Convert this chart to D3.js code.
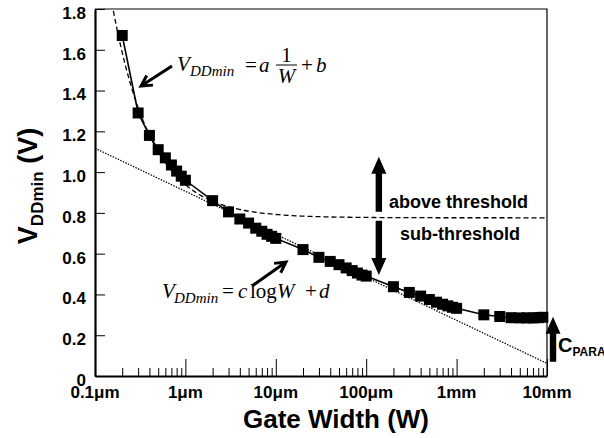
<!DOCTYPE html>
<html>
<head>
<meta charset="utf-8">
<script src="https://cdn.jsdelivr.net/npm/d3@7"></script>
<style>
  body { margin: 0; background: #fff; }
  svg { display: block; }
  .tick-lbl { font-family: Arial, "Liberation Sans", sans-serif; font-weight: bold; font-size: 17px; }
  .eq { font-family: "Times New Roman", "Liberation Serif", serif; font-size: 21px; }
</style>
</head>
<body>
<svg id="chart" width="604" height="438"></svg>
<script>
// gate width in um, measured minimum supply in V
var widths = [0.2, 0.3, 0.4, 0.5, 0.6, 0.7, 0.8, 0.9, 1,
              2, 3, 4, 5, 6, 7, 8, 9, 10,
              20, 30, 40, 50, 60, 70, 80, 90, 100,
              200, 300, 400, 500, 600, 700, 800, 900, 1000,
              2000, 3000, 4000, 5000, 6000, 7000, 8000, 9000];
var vddmin = [1.67, 1.29, 1.18, 1.11, 1.07, 1.035, 1.005, 0.98, 0.96,
              0.86, 0.805, 0.77, 0.75, 0.725, 0.71, 0.695, 0.685, 0.675,
              0.62, 0.582, 0.562, 0.546, 0.53, 0.517, 0.505, 0.495, 0.49,
              0.438, 0.41, 0.392, 0.375, 0.362, 0.352, 0.344, 0.337, 0.332,
              0.30, 0.292, 0.286, 0.285, 0.285, 0.285, 0.286, 0.288];

// fitted constants (W in um)
var fitA = 0.162, fitB = 0.776;   // above threshold: a/W + b
var fitC = -0.211, fitD = 0.906;  // sub-threshold: c log W + d

var xMajor = [0.1, 1, 10, 100, 1000, 10000];
var xLabels = ["0.1\u03bcm", "1\u03bcm", "10\u03bcm", "100\u03bcm", "1mm", "10mm"];
var yTicks = [0, 0.2, 0.4, 0.6, 0.8, 1.0, 1.2, 1.4, 1.6, 1.8];
var yLabels = ["0", "0.2", "0.4", "0.6", "0.8", "1.0", "1.2", "1.4", "1.6", "1.8"];

var svg = d3.select("#chart");
var pLeft = 95, pRight = 547, pTop = 9, pBottom = 376;

var x = d3.scaleLog().domain([0.1, 10000]).range([pLeft, pRight]);
var y = d3.scaleLinear().domain([0, 1.8]).range([pBottom, pTop]);

svg.append("defs").append("clipPath").attr("id", "plotclip")
  .append("rect").attr("x", pLeft).attr("y", pTop)
  .attr("width", pRight - pLeft).attr("height", pBottom - pTop);

// minor ticks 2..9 in each decade
var xMinor = [];
xMajor.slice(0, -1).forEach(function(d) {
  for (var k = 2; k <= 9; k++) xMinor.push(d * k);
});

svg.append("g")
    .attr("transform", "translate(0," + pBottom + ")")
    .call(d3.axisBottom(x).tickValues(xMinor).tickSize(-8).tickSizeOuter(0).tickFormat(""))
    .call(function(g) { g.select(".domain").remove(); })
    .selectAll("line").attr("stroke", "#000").attr("stroke-width", 1);

svg.append("g")
    .attr("transform", "translate(0," + pBottom + ")")
    .call(d3.axisBottom(x).tickValues(xMajor).tickSize(-17).tickSizeOuter(0).tickFormat(""))
    .call(function(g) {
      g.select(".domain").attr("stroke-width", 2.2);
      g.selectAll("line").attr("stroke-width", 1);
    });

svg.append("g").selectAll("text")
    .data(xMajor)
    .enter()
    .append("text")
    .attr("class", "tick-lbl")
    .attr("x", function(d) { return x(d); })
    .attr("y", 398)
    .attr("text-anchor", "middle")
    .text(function(d, i) { return xLabels[i]; });

svg.append("g")
    .attr("transform", "translate(" + pLeft + ",0)")
    .call(d3.axisLeft(y).tickValues(yTicks).tickSize(-10).tickSizeOuter(0).tickPadding(9)
      .tickFormat(function(d, i) { return yLabels[i]; }))
    .call(function(g) {
      g.select(".domain").attr("stroke-width", 2.2);
      g.selectAll("line").attr("stroke-width", 1);
      g.attr("font-size", null).attr("font-family", null);
      g.selectAll("text").attr("class", "tick-lbl").attr("dy", "0.55em");
    });

// box top and right
svg.append("path")
    .attr("d", "M" + pLeft + "," + pTop + "H" + pRight + "V" + pBottom)
    .attr("fill", "none").attr("stroke", "#000").attr("stroke-width", 1.2);

// axis titles
svg.append("text")
    .attr("x", 336).attr("y", 428)
    .attr("text-anchor", "middle")
    .style("font-family", "Arial, 'Liberation Sans', sans-serif")
    .style("font-weight", "bold").style("font-size", "26px")
    .text("Gate Width (W)");

var yt = svg.append("text")
    .attr("transform", "translate(37,186) rotate(-90)")
    .attr("text-anchor", "middle")
    .style("font-family", "Arial, 'Liberation Sans', sans-serif")
    .style("font-weight", "bold").style("font-size", "27px");
yt.append("tspan").text("V");
yt.append("tspan").attr("dy", 6).style("font-size", "17px").text("DDmin");
yt.append("tspan").attr("dy", -6).text(" (V)");

var plot = svg.append("g").attr("clip-path", "url(#plotclip)");

// fit curves
var fitW = d3.range(0, 161).map(function(i) { return 0.1 * Math.pow(10, i / 32); });
plot.append("path")
    .datum(fitW.filter(function(w) { return w >= 0.14; }))
    .attr("fill", "none").attr("stroke", "#000").attr("stroke-width", 1.3)
    .attr("stroke-dasharray", "5,3")
    .attr("d", d3.line().x(function(w) { return x(w); })
      .y(function(w) { return y(fitA / w + fitB); }));

plot.append("path")
    .datum([0.1, 10000])
    .attr("fill", "none").attr("stroke", "#000").attr("stroke-width", 1.3)
    .attr("stroke-dasharray", "1.4,1.4")
    .attr("d", d3.line().x(function(w) { return x(w); })
      .y(function(w) { return y(fitC * Math.log10(w) + fitD); }));

// measured data
var pts = widths.map(function(w, i) { return [w, vddmin[i]]; });
svg.append("path")
    .datum(pts)
    .attr("fill", "none").attr("stroke", "#000").attr("stroke-width", 1.6)
    .attr("d", d3.line().x(function(d) { return x(d[0]); }).y(function(d) { return y(d[1]); }));

svg.append("g").selectAll("rect")
    .data(pts)
    .enter()
    .append("rect")
    .attr("x", function(d) { return x(d[0]) - 5.5; })
    .attr("y", function(d) { return y(d[1]) - 5.5; })
    .attr("width", 11).attr("height", 11)
    .attr("fill", "#000");

// block arrows
function blockArrow(xp, y0, y1) {
  var dir = y1 < y0 ? -1 : 1, hl = 17, hw = 7.5, sw = 3.2;
  var yb = y1 - dir * hl;
  return "M" + (xp - sw) + "," + y0 + "L" + (xp - sw) + "," + yb + "L" + (xp - hw) + "," + yb +
    "L" + xp + "," + y1 + "L" + (xp + hw) + "," + yb + "L" + (xp + sw) + "," + yb +
    "L" + (xp + sw) + "," + y0 + "Z";
}
var wArrow = 138;
svg.append("path").attr("d", blockArrow(x(wArrow), y(0.805), y(1.075))).attr("fill", "#000");
svg.append("path").attr("d", blockArrow(x(wArrow), y(0.762), y(0.495))).attr("fill", "#000");
svg.append("path").attr("d", blockArrow(x(10000) + 6, y(0.07), y(0.291))).attr("fill", "#000");

var lblFont = "Arial, 'Liberation Sans', sans-serif";
svg.append("text").attr("x", 389).attr("y", 208)
    .style("font-family", lblFont).style("font-weight", "bold").style("font-size", "18px")
    .text("above threshold");
svg.append("text").attr("x", 400).attr("y", 240)
    .style("font-family", lblFont).style("font-weight", "bold").style("font-size", "18px")
    .text("sub-threshold");

var cp = svg.append("text").attr("x", 558).attr("y", 352)
    .style("font-family", lblFont).style("font-weight", "bold").style("font-size", "20px");
cp.append("tspan").text("C");
cp.append("tspan").attr("dy", 4).style("font-size", "12px").text("PARA");

// thin arrows to the fits
function lineArrow(x0, y0, x1, y1) {
  var ang = Math.atan2(y1 - y0, x1 - x0), hl = 12, spread = 0.5;
  var a1 = ang + Math.PI - spread, a2 = ang + Math.PI + spread;
  return "M" + x0 + "," + y0 + "L" + x1 + "," + y1 +
    "M" + (x1 + hl * Math.cos(a1)) + "," + (y1 + hl * Math.sin(a1)) + "L" + x1 + "," + y1 +
    "L" + (x1 + hl * Math.cos(a2)) + "," + (y1 + hl * Math.sin(a2));
}
svg.append("path").attr("d", lineArrow(172, 66, 141, 86))
    .attr("fill", "none").attr("stroke", "#000").attr("stroke-width", 3);
svg.append("path").attr("d", lineArrow(252, 286, 286, 262))
    .attr("fill", "none").attr("stroke", "#000").attr("stroke-width", 3);

// equations
var eq = svg.append("g").attr("class", "eq").attr("fill", "#000");
function t(xp, yp, s, italic, size, anchor) {
  eq.append("text").attr("x", xp).attr("y", yp)
    .style("font-style", italic ? "italic" : "normal")
    .style("font-size", size ? size + "px" : null)
    .attr("text-anchor", anchor || "start")
    .text(s);
}
t(177, 71, "V", true);
t(190, 76, "DDmin", true, 15);
t(245, 72, "=", false);
t(259, 72, "a", true);
t(286.5, 62, "1", false, null, "middle");
eq.append("line").attr("x1", 276).attr("x2", 297).attr("y1", 65).attr("y2", 65)
    .attr("stroke", "#000").attr("stroke-width", 1);
t(286.5, 83, "W", true, null, "middle");
t(301, 72, "+", false);
t(316, 72, "b", true);

t(162, 298, "V", true);
t(174, 303, "DDmin", true, 15);
t(222, 298, "=", false);
t(238, 298, "c", true);
t(250, 298, "log", false);
t(277, 298, "W", true);
t(305, 298, "+", false);
t(319, 298, "d", true);
</script>
</body>
</html>
